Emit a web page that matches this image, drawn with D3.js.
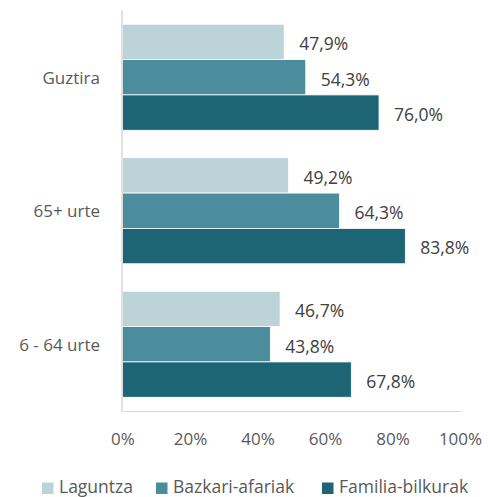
<!DOCTYPE html>
<html>
<head>
<meta charset="utf-8">
<script src="https://cdn.jsdelivr.net/npm/d3@7"></script>
<style>
  html, body { margin: 0; padding: 0; background: #fff; }
  svg { display: block; font-family: "Open Sans", "Noto Sans", sans-serif; }
</style>
</head>
<body>
<svg id="chart" width="489" height="497"></svg>
<script>
// Age groups, top to bottom
const categories = ["Guztira", "65+ urte", "6 - 64 urte"];
// Series names (legend order)
const seriesNames = ["Laguntza", "Bazkari-afariak", "Familia-bilkurak"];
// Percentages per series, aligned with categories
const laguntza = [47.9, 49.2, 46.7];
const bazkariAfariak = [54.3, 64.3, 43.8];
const familiaBilkurak = [76.0, 83.8, 67.8];
// Axis ticks
const tickValues = [0, 20, 40, 60, 80, 100];

const seriesValues = [laguntza, bazkariAfariak, familiaBilkurak];
const colors = ["#bcd3d8", "#4b8d9c", "#1d6474"];

const svg = d3.select("#chart");
const plot = { left: 122.5, right: 460, top: 10.5, bottom: 411 };

const x = d3.scaleLinear().domain([0, 100]).range([plot.left, plot.right]);
const y0 = d3.scaleBand().domain(categories).range([plot.top, plot.bottom]).paddingInner(0.206).paddingOuter(0.103);
const y1 = d3.scaleBand().domain(seriesNames).range([0, y0.bandwidth()]).padding(0);

const fmt = v => v.toFixed(1).replace(".", ",") + "%";

// Bottom gridline
svg.append("line")
  .attr("x1", plot.left).attr("x2", x(100) + 1)
  .attr("y1", plot.bottom + 0.5).attr("y2", plot.bottom + 0.5)
  .attr("stroke", "#d9d9d9").attr("stroke-width", 1);

const groups = svg.append("g").selectAll("g")
  .data(categories)
  .join("g")
  .attr("transform", d => `translate(0,${y0(d)})`);

groups.each(function(cat, ci) {
  const g = d3.select(this);
  seriesNames.forEach((s, si) => {
    const v = seriesValues[si][ci];
    g.append("rect")
      .attr("x", x(0))
      .attr("y", y1(s))
      .attr("width", x(v) - x(0))
      .attr("height", y1.bandwidth())
      .attr("fill", colors[si])
      .attr("stroke", "#ffffff")
      .attr("stroke-width", 0.8);
    g.append("text")
      .attr("x", x(v) + 15)
      .attr("y", y1(s) + y1.bandwidth() / 2 + 8.3)
      .attr("font-size", 17.5)
      .attr("fill", "#404040")
      .text(fmt(v));
  });
});

// Vertical axis line
svg.append("line")
  .attr("x1", plot.left - 0.5).attr("x2", plot.left - 0.5)
  .attr("y1", plot.top).attr("y2", plot.bottom + 1)
  .attr("stroke", "#d9d9d9").attr("stroke-width", 1.5);

// Category labels
svg.append("g").selectAll("text")
  .data(categories)
  .join("text")
  .attr("x", 100)
  .attr("y", d => y0(d) + y0.bandwidth() / 2 + 6.3)
  .attr("text-anchor", "end")
  .attr("font-size", 17)
  .attr("fill", "#595959")
  .text(d => d);

// X axis tick labels
const xAxis = d3.axisBottom(x).tickValues(tickValues).tickSize(0).tickPadding(0).tickFormat(d => d + "%");
const ax = svg.append("g").attr("transform", `translate(0,${plot.bottom})`).call(xAxis);
ax.select(".domain").remove();
ax.selectAll("text")
  .attr("dy", null)
  .attr("y", 34)
  .attr("font-family", "Open Sans, Noto Sans, sans-serif")
  .attr("font-size", 17)
  .attr("fill", "#595959");

// Legend
const legendX = [42, 156, 322];
const legend = svg.append("g").selectAll("g")
  .data(seriesNames)
  .join("g")
  .attr("transform", (d, i) => `translate(${legendX[i]},482.5)`);
legend.append("rect")
  .attr("width", 11.5).attr("height", 11.5)
  .attr("fill", (d, i) => colors[i]);
legend.append("text")
  .attr("x", 17).attr("y", 10)
  .attr("font-size", 17.5)
  .attr("fill", "#595959")
  .text(d => d);
</script>
</body>
</html>
